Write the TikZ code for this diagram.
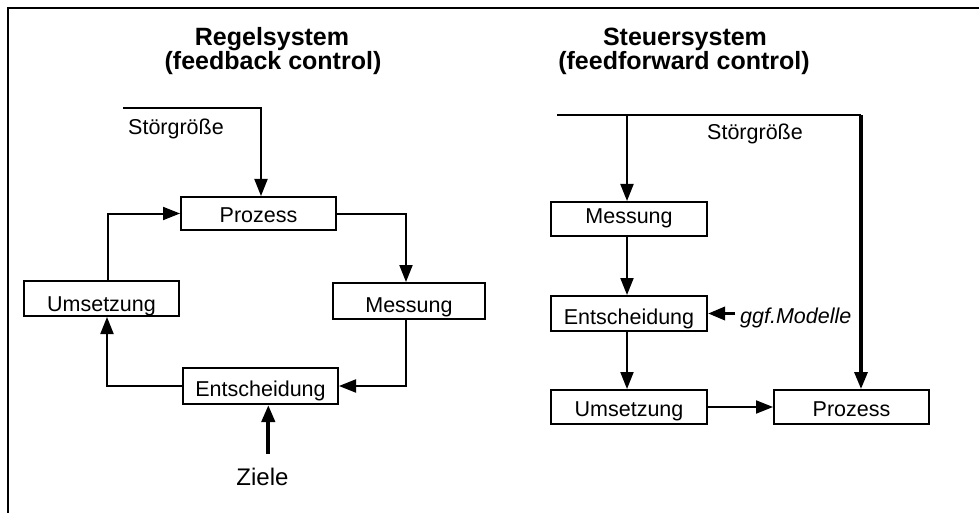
\documentclass[tikz,border=0pt]{standalone}
\usepackage{fontspec}
\setmainfont{Liberation Sans}
\usetikzlibrary{arrows.meta}

\begin{document}
\begin{tikzpicture}[x=1pt,y=-1pt,
  conn/.style={line width=2pt},
  arr/.style={conn,-{Triangle[length=17pt,width=13pt]}},
  heavy/.style={line width=4pt},
  blk/.style={draw,line width=2pt,inner sep=0pt,minimum height=35pt,
    text height=21pt,text depth=0pt,font=\fontsize{21.5}{24}\selectfont},
  lbl/.style={inner sep=0pt,font=\fontsize{21.5}{24}\selectfont},
  head/.style={inner sep=0pt,anchor=base,font=\fontsize{25}{28}\selectfont\bfseries}]
\useasboundingbox (0,0) rectangle (979,513);

% outer frame
\draw[line width=2.2pt] (8,513) -- (8,8) -- (979,8);

% ---------- feedback loop ----------
\node[head] (tL1) at (272,45.5) {Regelsystem};
\node[head] (tL2) at (273,70) {(feedback control)};

\node[blk,minimum width=155pt,minimum height=33pt,text height=18pt] (prL) at (258.5,213.5) {Prozess};
\node[blk,minimum width=155pt,text height=26pt] (umL) at (101.5,298.5) {Umsetzung};
\node[blk,minimum width=152pt,minimum height=36pt,text height=23pt] (meL) at (409,301) {Messung};
\node[blk,minimum width=155pt,minimum height=36pt] (enL) at (260.5,386) {Entscheidung};

\node[lbl,anchor=base west] (stL) at (128,135) {Störgröße};
\node[inner sep=0pt,anchor=base,font=\fontsize{24}{26}\selectfont] (zi) at (262.5,485) {Ziele};

\coordinate (sL) at (123,108);
\coordinate (zt) at (268.3,454);

\draw[arr] (sL) -| ([xshift=2.5pt]prL.north);
\draw[arr] ([xshift=6.5pt]umL.north) |- (prL.west);
\draw[arr] (prL.east) -| ([xshift=-3pt]meL.north);
\draw[arr] ([xshift=-3pt]meL.south) |- (enL.east);
\draw[arr] (enL.west) -| ([xshift=5.5pt]umL.south);
\draw[arr,heavy] (zt) -- (zt |- enL.south);

% ---------- feedforward chain ----------
\node[head] (tR1) at (685,45.5) {Steuersystem};
\node[head] (tR2) at (684,70) {(feedforward control)};

\node[blk,minimum width=156pt,minimum height=34pt,text height=8pt] (meR) at (629,219) {Messung};
\node[blk,minimum width=156pt] (enR) at (629,313.5) {Entscheidung};
\node[blk,minimum width=156pt,minimum height=34pt,text height=19pt] (umR) at (629,407) {Umsetzung};
\node[blk,minimum width=155pt,minimum height=34pt,text height=19pt] (prR) at (851.5,407) {Prozess};

\node[lbl,anchor=base west] (stR) at (707,140) {Störgröße};
\node[lbl,anchor=base west,font=\fontsize{21.5}{24}\selectfont\itshape] (gg) at (740,323) {ggf.Modelle};

\coordinate (sR) at (557,115);
\coordinate (jR) at (627,115);
\coordinate (cR) at (861,115);

\draw[line width=2.2pt] (sR) -- (cR);
\draw[arr] (jR) -- (jR |- meR.north);
\draw[arr,line width=3.3pt] (cR) -- ([xshift=9.5pt]prR.north);
\draw[arr] ([xshift=-2pt]meR.south) -- ([xshift=-2pt]enR.north);
\draw[arr] ([xshift=-2pt]enR.south) -- ([xshift=-2pt]umR.north);
\draw[arr] (umR.east) -- (prR.west);
\draw[arr,line width=3.3pt] ([xshift=-5pt]gg.west |- enR.east) -- (enR.east);
\end{tikzpicture}
\end{document}
